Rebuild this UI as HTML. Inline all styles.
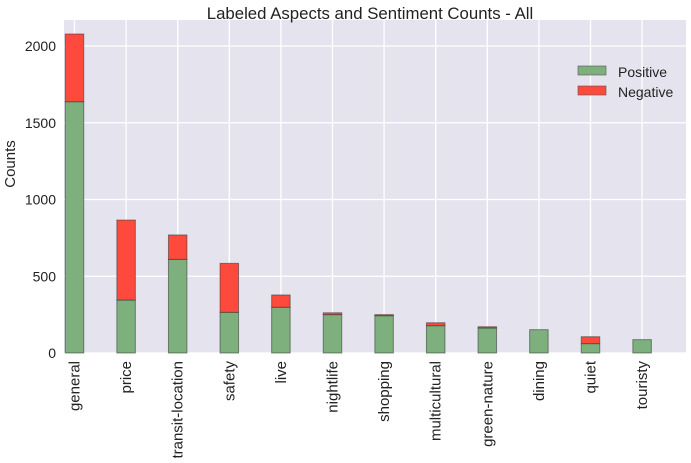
<!DOCTYPE html>
<html><head><meta charset="utf-8"><style>
body{margin:0;background:#fff;}
svg text{font-family:"Liberation Sans",Arial,sans-serif;fill:#222;}
</style></head><body>
<svg id="chart" width="691" height="458" xmlns="http://www.w3.org/2000/svg">
<rect x="64" y="20" width="622" height="333" fill="#e5e4ee"/>
<g id="grid"></g>
<g id="bars"></g>
<g id="ticks"></g>
<text x="370" y="19" font-size="16.8" text-anchor="middle">Labeled Aspects and Sentiment Counts - All</text>
<text transform="translate(15,164) rotate(-90)" font-size="15" text-anchor="middle">Counts</text>
<g>
<rect x="578" y="66" width="28" height="9" fill="#7db07c" stroke="#555" stroke-opacity="0.6"/>
<text x="618" y="77" font-size="14">Positive</text>
<rect x="578" y="86" width="28" height="9" fill="#fd4a3c" stroke="#555" stroke-opacity="0.6"/>
<text x="618" y="97" font-size="14">Negative</text>
</g>
</svg>
<script>
const categories=["general","price","transit-location","safety","live","nightlife","shopping","multicultural","green-nature","dining","quiet","touristy"];
const positive=[1637,345,610,265,298,250,243,178,163,152,61,87];
const negative=[441,521,159,319,80,12,7,19,8,0,45,0];
const yTicks=[0,500,1000,1500,2000];
const NS="http://www.w3.org/2000/svg";
const yScale=v=>353-v*0.1535;
const xScale=i=>74.5+i*51.6;
const barW=18.5;
function mk(tag,attrs,parent){const e=document.createElementNS(NS,tag);for(const k in attrs)e.setAttribute(k,attrs[k]);parent.appendChild(e);return e;}
const grid=document.getElementById('grid'),bars=document.getElementById('bars'),ticks=document.getElementById('ticks');
yTicks.forEach(t=>{
 const l=mk('line',{x1:64,x2:686,y1:yScale(t),y2:yScale(t),stroke:'#fff','stroke-width':1.3},grid);
 
 
 const tx=mk('text',{x:56,y:yScale(t)+5,'font-size':14,'text-anchor':'end'},ticks);
 tx.textContent=t;
 
 
});
categories.forEach((c,i)=>{
 const x=xScale(i);
 const g=mk('line',{x1:x,x2:x,y1:20,y2:353,stroke:'#fff','stroke-width':1.3},grid);
 
 
 const p=mk('rect',{x:x-barW/2,y:yScale(positive[i]),width:barW,height:positive[i]*0.1535,fill:'#7db07c',stroke:'#333','stroke-opacity':0.55},bars);
 
 
 if(negative[i]>0){
  const n=mk('rect',{x:x-barW/2,y:yScale(positive[i]+negative[i]),width:barW,height:negative[i]*0.1535,fill:'#fd4a3c',stroke:'#333','stroke-opacity':0.55},bars);
  
  
 }
 const t=mk('text',{transform:`translate(${x+5},361) rotate(-90)`,'font-size':15,'text-anchor':'end'},ticks);
 t.textContent=c;
 
 
});
</script>
</body></html>
